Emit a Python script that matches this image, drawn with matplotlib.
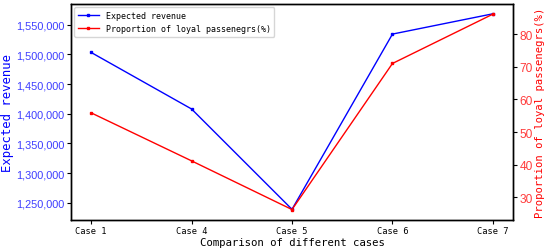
import matplotlib.pyplot as plt
from matplotlib.ticker import FuncFormatter

cases = ["Case 1", "Case 4", "Case 5", "Case 6", "Case 7"]
revenue = [1503400, 1408100, 1239000, 1534300, 1568500]
loyal = [55.9, 41.2, 26.3, 71.0, 86.1]

num_font = "Liberation Sans"
mono = "DejaVu Sans Mono"

fig = plt.figure(figsize=(5.5, 2.53), dpi=100)
ax1 = fig.add_axes([71 / 550, 1 - 221 / 253, (513 - 71) / 550, (221 - 5) / 253])
ax2 = ax1.twinx()

x = range(len(cases))
l1, = ax1.plot(x, revenue, color="blue", marker="s", markersize=1.8, linewidth=1,
               label="Expected revenue")
l2, = ax2.plot(x, loyal, color="red", marker="s", markersize=1.8, linewidth=1,
               label="Proportion of loyal passenegrs(%)")

ax1.set_xlim(-0.2, 4.2)
ax1.set_ylim(1221000, 1585000)
ax2.set_ylim(23.1, 89.2)
ax1.set_yticks([1250000, 1300000, 1350000, 1400000, 1450000, 1500000, 1550000])
ax2.set_yticks([30, 40, 50, 60, 70, 80])
ax1.yaxis.set_major_formatter(FuncFormatter(lambda v, p: f"{int(v):,}"))

ax1.set_xticks(list(x))
ax1.set_xticklabels(cases, fontsize=6.3, family=mono)
for lab in ax1.get_yticklabels():
    lab.set_family(num_font)
    lab.set_fontsize(7.8)
    lab.set_color("#3c3cff")
for lab in ax2.get_yticklabels():
    lab.set_family(num_font)
    lab.set_fontsize(8.6)
    lab.set_color("#ff3c3c")

ax1.set_xlabel("Comparison of different cases", family=mono, fontsize=7.7, labelpad=1)
ax1.set_ylabel("Expected revenue", family=mono, fontsize=8.8, color="blue", labelpad=2)
ax2.set_ylabel("Proportion of loyal passenegrs(%)", family=mono, fontsize=7.6,
               color="red", labelpad=2)

for ax in (ax1, ax2):
    ax.tick_params(length=3, width=0.8, pad=1.5)
    for s in ax.spines.values():
        s.set_linewidth(1)

ax1.legend([l1, l2], [l1.get_label(), l2.get_label()], loc="upper left",
           prop={"family": mono, "size": 6.0}, handlelength=2.6,
           borderaxespad=0.4, labelspacing=0.55)

fig.savefig("out.png", dpi=100)
